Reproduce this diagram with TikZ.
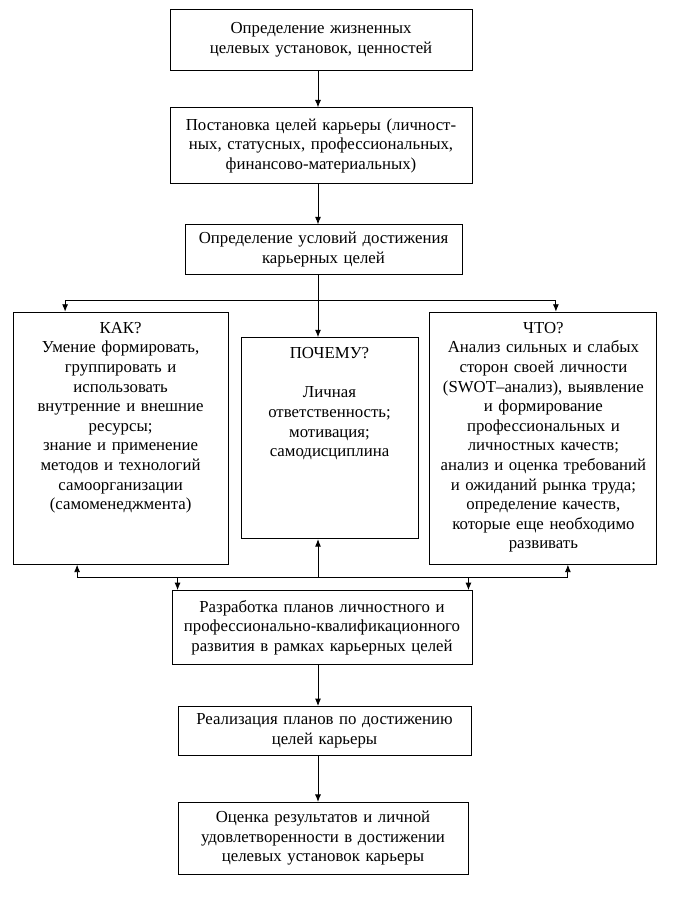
\documentclass[tikz,border=0pt]{standalone}
\usepackage{fontspec}
\setmainfont{Liberation Serif}
\usetikzlibrary{positioning,arrows.meta}
\begin{document}
\begin{tikzpicture}[x=1bp, y=-1bp, ->, >={Latex[length=7.5bp,width=6bp]}, line width=0.9bp,
    box node/.style={draw, align=center, inner xsep=3bp, inner ysep=3bp},
    side node/.style={draw, align=center, inner xsep=3bp, inner ysep=9bp, text height=12bp}]
            \tikzstyle{every node}=[font=\fontsize{16.8bp}{19.6bp}\selectfont]
            \useasboundingbox (0,0) rectangle (682,901);

              \node[box node, text width=296bp, minimum height=61bp] (1) at (321,39.5) {Определение жизненных\\целевых установок, ценностей};
              \node[box node, text width=296bp, minimum height=76bp] (2) [below=37bp of 1] {Постановка целей карьеры (личност-\\ных, статусных, профессиональных,\\финансово-материальных)};
              \node[box node, text width=271bp, minimum height=50bp] (3) [below=40bp of 2, xshift=2.5bp] {Определение условий достижения\\карьерных целей};
              \node[side node, text width=171bp, text depth=171bp, inner ysep=9bp] (5) [below=62bp of 3, xshift=6bp] {ПОЧЕМУ?\\[19.6bp]Личная\\ответственность;\\мотивация;\\самодисциплина};
              \node[side node, text width=209bp, text depth=222bp] (4) [left=12bp of 5] {КАК?\\Умение формировать,\\группировать и\\использовать\\внутренние и внешние\\ресурсы;\\знание и применение\\методов и технологий\\самоорганизации\\(самоменеджмента)};
              \node[side node, text width=221bp, text depth=222bp] (6) [right=11bp of 5] {ЧТО?\\Анализ сильных и слабых\\сторон своей личности\\(SWOT–анализ), выявление\\и формирование\\профессиональных и\\личностных качеств;\\анализ и оценка требований\\и ожиданий рынка труда;\\определение качеств,\\которые еще необходимо\\развивать};
              \node[box node, text width=294bp, minimum height=74bp] (7) [below=51bp of 5, xshift=-7.5bp] {Разработка планов личностного и\\профессионально-квалификационного\\развития в рамках карьерных целей};
              \node[box node, text width=287bp, minimum height=49bp] (8) [below=41bp of 7, xshift=2.5bp] {Реализация планов по достижению\\целей карьеры};
              \node[box node, text width=284bp, minimum height=72bp] (9) [below=46bp of 8, xshift=-1.5bp] {Оценка результатов и личной\\удовлетворенности в достижении\\целевых установок карьеры};

              \coordinate (split) at (318,300);
              \coordinate (merge) at (318,577);

              \draw (1.south -| split) -- (2.north -| split);
              \draw (2.south -| split) -- (3.north -| split);
              \draw[-] (3.south -| split) -- (split);
              \draw (split) -- (5.north -| split);
              \draw (split) -| ([xshift=-55.5bp]4.north);
              \draw (split) -| ([xshift=12.5bp]6.north);
              \draw (merge) -- (5.south -| merge);
              \draw (merge) -| ([xshift=-43.5bp]4.south);
              \draw (merge) -| ([xshift=24.5bp]6.south);
              \draw (merge) -| ([xshift=6bp]7.north west);
              \draw (merge) -| ([xshift=-4bp]7.north east);
              \draw (7.south -| split) -- (8.north -| split);
              \draw (8.south -| split) -- (9.north -| split);

            \end{tikzpicture}
\end{document}
